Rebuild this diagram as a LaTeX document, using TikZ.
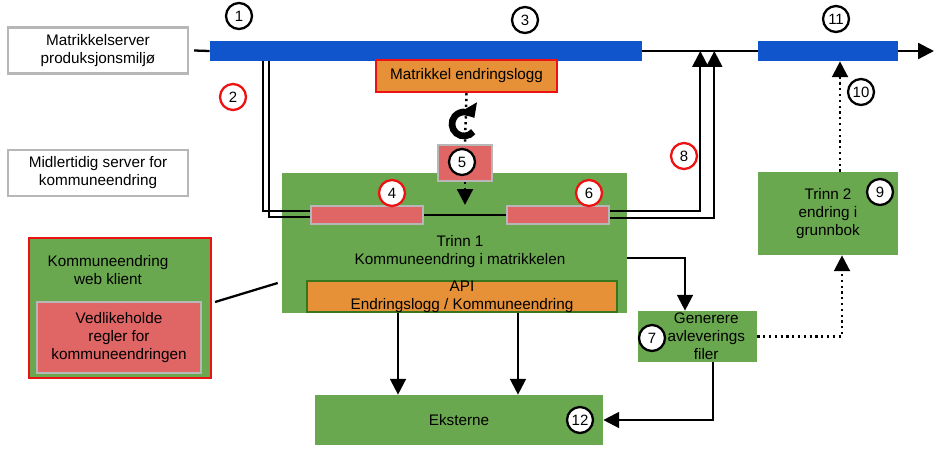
\documentclass[tikz,border=0pt]{standalone}
\usepackage{fontspec}
\setmainfont{Liberation Sans}
\usetikzlibrary{shapes,arrows.meta,positioning,calc}
\definecolor{barblue}{HTML}{1155CC}
\definecolor{boxgreen}{HTML}{6AA84F}
\definecolor{darkgreen}{HTML}{38761D}
\definecolor{logorange}{HTML}{E69138}
\definecolor{rulepink}{HTML}{E06666}
\definecolor{edgegray}{HTML}{B7B7B7}
\definecolor{markred}{HTML}{EE1111}

\begin{document}
\begin{tikzpicture}[x=0.02cm, y=-0.02cm,
  font=\fontsize{8.7}{10.2}\selectfont,
  srv/.style={rectangle, draw=edgegray, line width=1.2pt, fill=white, align=center, minimum width=3.6cm, minimum height=0.92cm},
  bar/.style={rectangle, fill=barblue, inner sep=0pt, minimum height=0.4cm},
  grn/.style={rectangle, fill=boxgreen, align=center, inner sep=1pt},
  pnk/.style={rectangle, fill=rulepink, draw=edgegray, line width=1.2pt, inner sep=0pt, align=center},
  num/.style={circle, draw, line width=1.3pt, fill=white, inner sep=0pt, minimum size=0.52cm, font=\fontsize{8.5}{9}\selectfont},
  rnum/.style={num, draw=markred},
  arr/.style={-{Triangle[length=9pt, width=9pt]}, line width=1.3pt},
  dotarr/.style={arr, dotted, line width=1.4pt},
  line/.style={line width=1.3pt}
]
  \useasboundingbox (0,0) rectangle (936,457);

  % servers and the main line
  \node[srv] (prod) at (98,50.5) {Matrikkelserver\\produksjonsmiljø};
  \node[srv] (tmp) at (98,173) {Midlertidig server for\\kommuneendring};
  \node[bar, minimum width=8.64cm] (bar1) at (426,51) {};
  \node[bar, minimum width=2.8cm] (bar2) at (828,51) {};
  \coordinate (out) at (934,51);
  \node[rectangle, fill=logorange, draw=markred, line width=1.2pt, minimum width=3.62cm, minimum height=0.64cm] (endlog) at (466.5,76) {Matrikkel endringslogg};

  % trinn 1
  \node[grn, minimum width=6.9cm, minimum height=2.8cm] (trinn1) at (454.5,243) {};
  \node[align=center] (t1text) at (460,252) {Trinn 1\\Kommuneendring i matrikkelen};
  \node[rectangle, fill=logorange, draw=darkgreen, line width=1.2pt, align=center, inner sep=0pt, minimum width=6.2cm, minimum height=0.62cm] (api) at (462,296.5) {API\\Endringslogg / Kommuneendring};
  \node[pnk, minimum width=2.24cm, minimum height=0.36cm] (b4) at (367,215) {};
  \node[pnk, minimum width=2.04cm, minimum height=0.36cm] (b6) at (558,215) {};
  \node[pnk, minimum width=1.08cm, minimum height=0.72cm] (b5) at (465,163) {};
  \coordinate (loop) at (464,124);

  % web klient
  \node[grn, draw=markred, line width=1.2pt, minimum width=3.64cm, minimum height=2.8cm] (web) at (120,308) {};
  \node[align=center] (webtext) at (108,270) {Kommuneendring\\web klient};
  \node[pnk, minimum width=3.28cm, minimum height=1.42cm] (vedl) at (119,337.5) {Vedlikeholde\\regler for\\kommuneendringen};

  % trinn 2, avlevering, eksterne
  \node[grn, minimum width=2.8cm, minimum height=1.66cm] (trinn2) at (828,213.5) {Trinn 2\\endring i\\grunnbok};
  \node[grn, minimum width=2.38cm, minimum height=1.02cm] (gen) at (697.5,336.5) {\hspace{0.35cm}Generere\\\hspace{0.35cm}avleverings\\\hspace{0.35cm}filer};
  \node[grn, minimum width=5.76cm, minimum height=1cm] (ext) at (459,420) {Eksterne};

  % numbers
  \node[num] (c1) at (239,16) {1};
  \node[rnum] (c2) at (233,97) {2};
  \node[num] (c3) at (525,20) {3};
  \node[rnum] (c4) at (392,193) {4};
  \node[num] (c5) at (462,162) {5};
  \node[rnum] (c6) at (589,193) {6};
  \node[num] (c7) at (652,338) {7};
  \node[rnum] (c8) at (684,156) {8};
  \node[num] (c9) at (880,192) {9};
  \node[num] (c10) at (861,92) {10};
  \node[num] (c11) at (836,19) {11};
  \node[num] (c12) at (580,420) {12};

  % connectors
  \draw[line] ([xshift=0.1cm]prod.east) -- (bar1.west);
  \draw[line] (bar1.east) -- (bar2.west);
  \draw[arr] (bar2.east) -- (out);
  \draw[line] ([xshift=1.06cm]bar1.south west) |- ([yshift=0.08cm]b4.west);
  \draw[line] ([xshift=1.18cm]bar1.south west) |- ([yshift=-0.04cm]b4.west);
  \draw[line] (b4.east) -- (b6.west);
  \draw[line, dotted, line width=1.4pt] (endlog.south) -- (b5.north);
  \draw[line width=3.8pt, -{Triangle[length=7pt, width=11pt]}] ([shift={(-40:0.24cm)}]loop) arc(-40:-330:0.24cm);
  \draw[dotarr] (b5.south) -- (b5.south |- b4.north);
  \draw[arr] ([yshift=0.08cm]b6.east) -| ([xshift=1.16cm]bar1.east);
  \draw[arr] ([yshift=-0.06cm]b6.east) -| ([xshift=1.44cm]bar1.east);
  \draw[arr] ([yshift=-0.3cm]trinn1.east) -| ([xshift=-0.25cm]gen.north);
  \draw[dotarr] (gen.east) -| ([xshift=0.28cm]trinn2.south);
  \draw[dotarr] ([xshift=0.24cm]trinn2.north) -- ([xshift=0.24cm]bar2.south);
  \draw[arr] ([xshift=0.31cm]gen.south) |- (ext.east);
  \draw[arr] ([xshift=-1.28cm]api.south) -- ([xshift=-1.28cm]api.south |- ext.north);
  \draw[arr] ([xshift=1.12cm]api.south) -- ([xshift=1.12cm]api.south |- ext.north);
  \draw[line] ([xshift=0.06cm, yshift=0.12cm]web.east) -- ([xshift=-0.08cm, yshift=-0.8cm]trinn1.west);
\end{tikzpicture}
\end{document}
